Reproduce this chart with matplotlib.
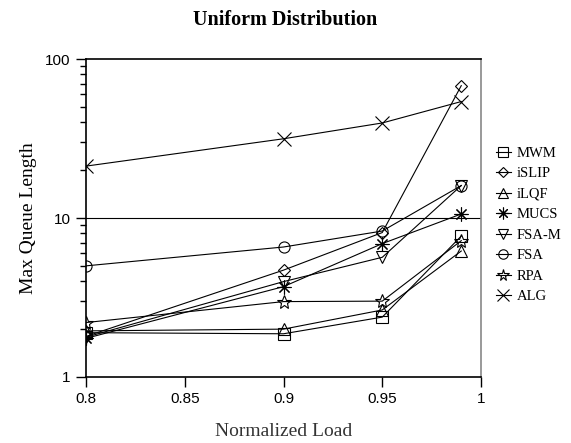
import matplotlib
matplotlib.use("Agg")
import matplotlib.pyplot as plt
from matplotlib.ticker import LogLocator, NullFormatter, FixedLocator

loads = [0.8, 0.9, 0.95, 0.99]
series_names = ["MWM", "iSLIP", "iLQF", "MUCS", "FSA-M", "FSA", "RPA", "ALG"]
mwm   = [1.90, 1.87, 2.38, 7.7]
islip = [1.80, 4.70, 8.1, 68.0]
ilqf  = [1.95, 2.00, 2.64, 6.2]
mucs  = [1.75, 3.70, 6.9, 10.6]
fsam  = [1.78, 3.98, 5.66, 16.0]
fsa   = [5.0, 6.57, 8.28, 16.0]
rpa   = [2.20, 2.98, 3.00, 7.2]
alg   = [21.2, 31.5, 39.6, 54.0]
x_ticks = [0.8, 0.85, 0.9, 0.95, 1.0]
x_ticklabels = ["0.8", "0.85", "0.9", "0.95", "1"]
y_ticks = [1, 10, 100]
y_ticklabels = ["1", "10", "100"]

data = [mwm, islip, ilqf, mucs, fsam, fsa, rpa, alg]
asterisk = (8, 2, 0)
markers = ["s", "D", "^", asterisk, "v", "o", "*", "x"]
msizes = [8, 6, 8, 10, 8, 8, 10, 10]

fig = plt.figure(figsize=(5.71, 4.43), dpi=100)
ax = fig.add_axes([0.1506, 0.149, 0.6918, 0.7178])

for name, vals, m, ms in zip(series_names, data, markers, msizes):
    ax.plot(loads, vals, color="black", lw=0.8, marker=m, markersize=ms,
            markerfacecolor="none", markeredgecolor="black", markeredgewidth=0.8,
            label=name)

ax.set_yscale("log")
ax.set_xlim(0.8, 1.0)
ax.set_ylim(1, 100)
ax.axhline(10, color="black", lw=0.8, zorder=0)

ax.xaxis.set_major_locator(FixedLocator(x_ticks))
ax.set_xticklabels(x_ticklabels, family="Liberation Sans", fontsize=11)
ax.yaxis.set_major_locator(FixedLocator(y_ticks))
ax.set_yticklabels(y_ticklabels, family="Liberation Sans", fontsize=11)
ax.yaxis.set_minor_locator(LogLocator(base=10, subs=range(2, 10)))
ax.yaxis.set_minor_formatter(NullFormatter())
ax.tick_params(axis="both", which="major", direction="out", length=7, width=1, pad=4)
ax.tick_params(axis="y", which="minor", direction="out", length=4, width=1)

for s in ["left", "bottom", "top"]:
    ax.spines[s].set_linewidth(1.2)
    ax.spines[s].set_color("black")
ax.spines["right"].set_color("#888888")
ax.spines["right"].set_linewidth(1.2)

fig.text(0.5, 0.955, "Uniform Distribution", ha="center", va="center",
         family="Liberation Serif", fontsize=14.5, fontweight="bold")
ax.set_xlabel("Normalized Load", family="Liberation Serif", fontsize=14, labelpad=12,
              color="#333333")
ax.set_ylabel("Max Queue Length", family="Liberation Serif", fontsize=14, labelpad=6)

leg = ax.legend(loc="center left", bbox_to_anchor=(1.005, 0.478), frameon=False,
                prop={"family": "Liberation Serif", "size": 10.5},
                handlelength=1.0, handletextpad=0.4, labelspacing=0.5,
                markerscale=0.85)

fig.savefig("out.png", dpi=100)
